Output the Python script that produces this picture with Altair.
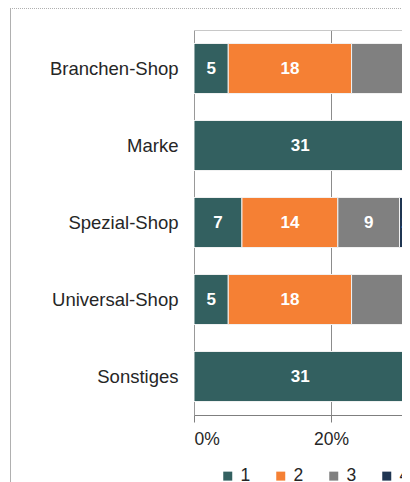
import altair as alt
import pandas as pd

categories = ["Branchen-Shop", "Marke", "Spezial-Shop", "Universal-Shop", "Sonstiges"]
levels = ["1", "2", "3", "4", "5"]
v1 = [5, 31, 7, 5, 31]
v2 = [18, 0, 14, 18, 0]
v3 = [18, 0, 9, 18, 0]
v4 = [27, 38, 2, 27, 38]
v5 = [32, 31, 68, 32, 31]
series = [v1, v2, v3, v4, v5]
colors = ["#336060", "#f58034", "#808080", "#1f3552", "#9dc3e6"]

rows = []
for li, lev in enumerate(levels):
    for c, v in zip(categories, series[li]):
        rows.append({"cat": c, "level": lev, "order": li, "value": v})
df = pd.DataFrame(rows)

FONT = "Liberation Sans"
PAD_L = 186
PLOT_W = 394 - PAD_L
FULL_W = 685  # pixel width that 100% would take
x_scale = alt.Scale(domain=[0, PLOT_W / FULL_W], nice=False, zero=True)
y_enc = alt.Y(
    "cat:N",
    sort=categories,
    scale=alt.Scale(paddingInner=0.35, paddingOuter=0.175),
    axis=alt.Axis(
        title=None, ticks=False, tickSize=0, labelPadding=16, labelFontSize=18.5,
        labelColor="#262626", labelFont=FONT, domainColor="#999999", grid=False,
    ),
)

base = alt.Chart(df).transform_filter("datum.value > 0").transform_stack(
    stack="value", groupby=["cat"], as_=["s0", "s1"], offset="normalize",
    sort=[alt.SortField("order")],
)

bars = base.mark_bar(stroke="#f2f2f2", strokeWidth=1, clip=True).encode(
    y=y_enc,
    x=alt.X(
        "s0:Q", scale=x_scale,
        axis=alt.Axis(
            values=[0, 0.2], format="%", title=None, grid=True, gridColor="#8c8c8c",
            domainColor="#7f7f7f", tickColor="#7f7f7f", tickSize=7, labelPadding=8,
            labelFontSize=17.5, labelColor="#262626", labelFont=FONT,
        ),
    ),
    x2="s1:Q",
    color=alt.Color(
        "level:N",
        scale=alt.Scale(domain=levels, range=colors),
        legend=alt.Legend(
            title=None, orient="none", legendX=25, legendY=437, direction="horizontal",
            symbolType="square", symbolSize=81, symbolStrokeWidth=0, labelFontSize=17.5,
            labelFont=FONT, labelColor="#262626", labelOffset=4, columnPadding=21, padding=0,
        ),
    ),
)

text = base.transform_calculate(mid="(datum.s0 + datum.s1) / 2").mark_text(
    color="white", fontWeight="bold", fontSize=17, font=FONT, clip=True
).encode(y=y_enc, x=alt.X("mid:Q", scale=x_scale), text="value:Q")

one = pd.DataFrame({"a": [0]})
top_border = alt.Chart(one).mark_rule(color="#c8c8c8", strokeWidth=1).encode(
    x=alt.value(0), x2=alt.value(PLOT_W), y=alt.value(0.5)
)
frame_top = alt.Chart(one).mark_rule(color="#b0b0b0", strokeWidth=1, strokeDash=[1, 1]).encode(
    x=alt.value(-184), x2=alt.value(PLOT_W), y=alt.value(-21.5)
)
frame_left = alt.Chart(one).mark_rule(color="#b0b0b0", strokeWidth=1).encode(
    x=alt.value(-183.5), y=alt.value(-21.5), y2=alt.value(460)
)

chart = alt.layer(bars, text, top_border, frame_top, frame_left).properties(
    width=PLOT_W, height=385,
    padding={"left": PAD_L, "top": 22, "right": 0, "bottom": 67},
    autosize=alt.AutoSizeParams(type="none"),
).configure_view(stroke=None)

chart.save("out.html", embed_options={"renderer": "svg", "actions": False})
